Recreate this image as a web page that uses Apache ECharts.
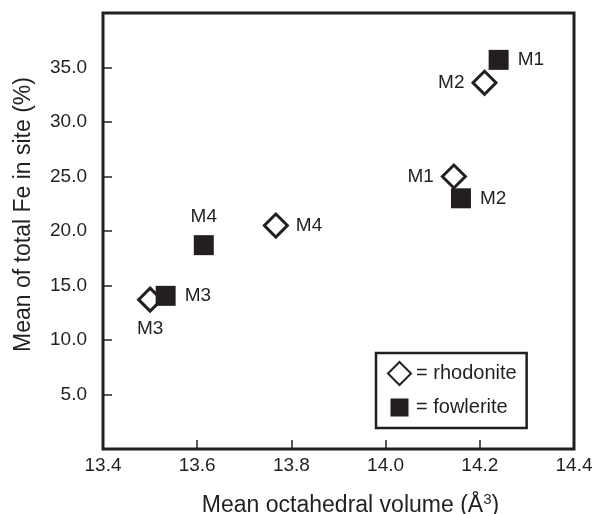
<!DOCTYPE html>
<html>
<head>
<meta charset="utf-8">
<script src="https://cdn.jsdelivr.net/npm/echarts@6/dist/echarts.min.js"></script>
<style>html,body{margin:0;padding:0;background:#fff;}#c{width:592px;height:514px;}</style>
</head>
<body>
<div id="c"></div>
<script>
var xTicks = [13.4, 13.6, 13.8, 14.0, 14.2, 14.4];
var yTicks = [5, 10, 15, 20, 25, 30, 35];
var siteNames = ['M1', 'M2', 'M3', 'M4'];
var rhodoniteVolume = [14.145, 14.21, 13.50, 13.767];
var rhodoniteFe = [25.0, 33.6, 13.7, 20.5];
var rhodoniteLabelPos = ['left', 'left', 'bottom', 'right'];
var fowleriteVolume = [14.24, 14.16, 13.533, 13.614];
var fowleriteFe = [35.7, 23.0, 14.05, 18.7];
var fowleriteLabelPos = ['right', 'right', 'right', 'top'];

var ink = '#231f20';
var font = 'Liberation Sans, Arial, Helvetica, sans-serif';

function buildData(xs, ys, pos) {
  return xs.map(function (x, i) {
    return { value: [x, ys[i]], name: siteNames[i], label: { position: pos[i] } };
  });
}

var chart = echarts.init(document.getElementById('c'));
chart.setOption({
  backgroundColor: '#fff',
  animation: false,
  textStyle: { fontFamily: font, color: ink },
  grid: {
    left: 103, right: 18, top: 13, bottom: 65,
    containLabel: false, outerBoundsMode: 'none',
    show: true, borderColor: ink, borderWidth: 3, backgroundColor: 'transparent'
  },
  legend: {
    orient: 'vertical',
    left: 376, top: 353,
    padding: [8, 10, 9, 11],
    borderColor: ink, borderWidth: 2.5,
    itemWidth: 23, itemHeight: 23, itemGap: 10, itemTextGap: 6,
    formatter: '= {name}',
    textStyle: { fontFamily: font, fontSize: 20, color: ink },
    data: [
      { name: 'rhodonite', icon: 'diamond' },
      { name: 'fowlerite', icon: 'path://M0,0L0.01,0M23,23L22.99,23M2.5,2.5H20.5V20.5H2.5Z' }
    ]
  },
  xAxis: {
    type: 'value', min: 13.4, max: 14.4, interval: 0.2,
    name: 'Mean octahedral volume (Å{sup|3})',
    nameLocation: 'middle', nameGap: 43,
    nameTextStyle: {
      fontFamily: font, fontSize: 23, color: ink, padding: [0, 0, 0, 24],
      rich: { sup: { fontFamily: font, fontSize: 15, color: ink, padding: [0, 0, 12, 0] } }
    },
    axisLine: { show: false },
    axisTick: { show: true, inside: true, length: 9, lineStyle: { color: ink, width: 1.5 } },
    axisLabel: {
      margin: 7, fontFamily: font, fontSize: 19, color: ink,
      formatter: function (v) { return v.toFixed(1); }
    },
    splitLine: { show: false }
  },
  yAxis: {
    type: 'value', min: 0, max: 40, interval: 5,
    name: 'Mean of total Fe in site (%)',
    nameLocation: 'middle', nameGap: 68,
    nameTextStyle: { fontFamily: font, fontSize: 23, color: ink, padding: [0, 0, 0, 33] },
    axisLine: { show: false },
    axisTick: { show: true, inside: true, length: 9, lineStyle: { color: ink, width: 1.5 } },
    axisLabel: {
      margin: 16, fontFamily: font, fontSize: 19, color: ink,
      showMinLabel: false, showMaxLabel: false,
      formatter: function (v) { return v.toFixed(1); }
    },
    splitLine: { show: false }
  },
  series: [
    {
      name: 'rhodonite', type: 'scatter', symbol: 'diamond', symbolSize: 23,
      itemStyle: { color: '#fff', borderColor: ink, borderWidth: 3, opacity: 1 },
      label: { show: true, formatter: '{b}', distance: 7, fontFamily: font, fontSize: 19, color: ink },
      data: buildData(rhodoniteVolume, rhodoniteFe, rhodoniteLabelPos),
      z: 2
    },
    {
      name: 'fowlerite', type: 'scatter', symbol: 'rect', symbolSize: 20,
      itemStyle: { color: ink, borderWidth: 0, opacity: 1 },
      label: { show: true, formatter: '{b}', distance: 9, fontFamily: font, fontSize: 19, color: ink },
      data: buildData(fowleriteVolume, fowleriteFe, fowleriteLabelPos),
      z: 3
    }
  ]
});
</script>
</body>
</html>
